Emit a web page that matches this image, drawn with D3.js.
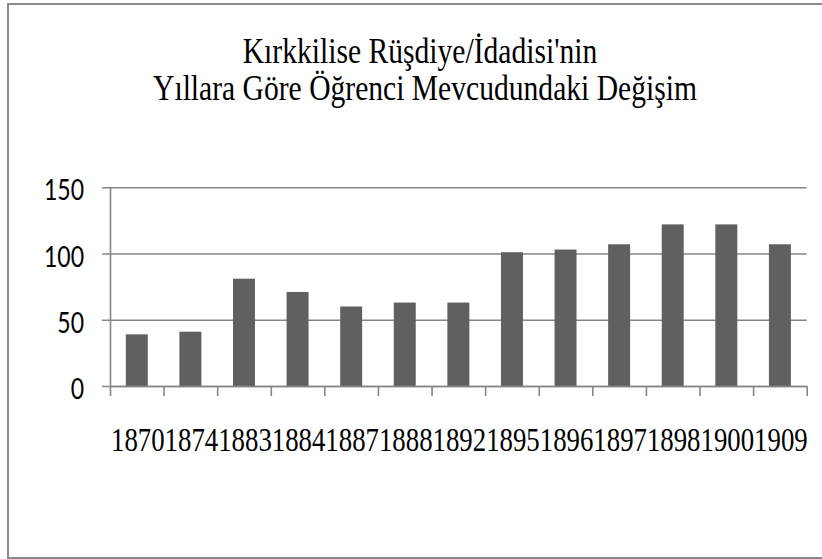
<!DOCTYPE html>
<html lang="tr">
<head>
    <meta charset="UTF-8">
    <title>Kırkkilise Rüşdiye/İdadisi'nin Öğrenci Mevcudu</title>
    <script src="https://d3js.org/d3.v7.min.js"></script>
    <style>
        body { margin: 0; background: #fff; }
        svg { display: block; }
    </style>
</head>
<body>
    <div id="chart"></div>

    <script>
        // data
        const years = ["1870", "1874", "1883", "1884", "1887", "1888", "1892", "1895", "1896", "1897", "1898", "1900", "1909"];
        const students = [39, 41, 81, 71, 60, 63, 63, 101, 103, 107, 122, 122, 107];
        const yTicks = [0, 50, 100, 150];
        const titleLines = ["Kırkkilise Rüşdiye/İdadisi'nin", "Yıllara Göre Öğrenci Mevcudundaki Değişim"];

        const width = 822;
        const height = 559;
        const plot = { left: 110, right: 806.7, top: 187.3, bottom: 386 };
        const gridColor = "#868686";
        const stretch = 1.23; // the original text is drawn taller than wide

        const svg = d3.select("#chart")
            .append("svg")
            .attr("width", width)
            .attr("height", height);

        // chart frame (right edge falls outside the picture)
        svg.append("rect")
            .attr("x", 8)
            .attr("y", 4)
            .attr("width", 840)
            .attr("height", 554)
            .attr("fill", "#fff")
            .attr("stroke", "#8a8a8a")
            .attr("stroke-width", 2);

        const x = d3.scaleBand()
            .domain(years)
            .range([plot.left, plot.right])
            .padding(0);

        const xEdges = d3.scaleLinear()
            .domain([0, years.length])
            .range([plot.left, plot.right]);

        const y = d3.scaleLinear()
            .domain([0, 150])
            .range([plot.bottom, plot.top]);

        // gridlines, sticking out left of the axis
        const grid = svg.append("g")
            .attr("transform", `translate(${plot.right},0)`)
            .call(d3.axisLeft(y).tickValues(yTicks).tickSize(plot.right - 102).tickFormat(""));
        grid.select(".domain").remove();
        grid.selectAll("line").attr("stroke", gridColor).attr("stroke-width", 1.6);

        // y labels
        svg.append("g")
            .selectAll("g")
            .data(yTicks)
            .enter()
            .append("g")
            .attr("transform", d => `translate(84,${y(d) + 13}) scale(1,${stretch})`)
            .append("text")
            .attr("text-anchor", "end")
            .style("font-family", "Lato, 'Open Sans', sans-serif")
            .style("font-size", "23px")
            .attr("fill", "#000")
            .text(d => d);

        // bars
        const barW = x.bandwidth() * 0.41;
        svg.append("g")
            .selectAll("rect")
            .data(years)
            .enter()
            .append("rect")
            .attr("x", (d, i) => x(d) + (x.bandwidth() - barW) / 2)
            .attr("y", (d, i) => y(students[i]))
            .attr("width", barW)
            .attr("height", (d, i) => y(0) - y(students[i]))
            .attr("fill", "#606060");

        // vertical axis line
        svg.append("g")
            .attr("transform", `translate(${plot.left},0)`)
            .call(d3.axisLeft(y).tickValues([]).tickSizeOuter(0))
            .select(".domain")
            .attr("stroke", gridColor)
            .attr("stroke-width", 1.6);

        // x axis with ticks at the category edges
        const xAxis = svg.append("g")
            .attr("transform", `translate(0,${plot.bottom})`)
            .call(d3.axisBottom(xEdges).tickValues(d3.range(years.length + 1)).tickSize(10).tickSizeOuter(0).tickFormat(""));
        xAxis.select(".domain").attr("stroke", gridColor).attr("stroke-width", 1.6);
        xAxis.selectAll("line").attr("stroke", gridColor).attr("stroke-width", 1.6);

        // x labels
        svg.append("g")
            .selectAll("g")
            .data(years)
            .enter()
            .append("g")
            .attr("transform", d => `translate(${x(d) + x.bandwidth() / 2 + 1},451) scale(1,${stretch})`)
            .append("text")
            .attr("text-anchor", "middle")
            .style("font-family", "'Liberation Serif', 'Times New Roman', serif")
            .style("font-size", "26.8px")
            .attr("fill", "#000")
            .text(d => d);

        // title
        const titleX = [420, 425];
        const titleY = [63, 100];
        svg.append("g")
            .selectAll("g")
            .data(titleLines)
            .enter()
            .append("g")
            .attr("transform", (d, i) => `translate(${titleX[i]},${titleY[i]}) scale(1,1.18)`)
            .append("text")
            .attr("text-anchor", "middle")
            .style("font-family", "'Liberation Serif', 'Times New Roman', serif")
            .style("font-size", "29.6px")
            .attr("fill", "#000")
            .text(d => d);
    </script>
</body>
</html>
